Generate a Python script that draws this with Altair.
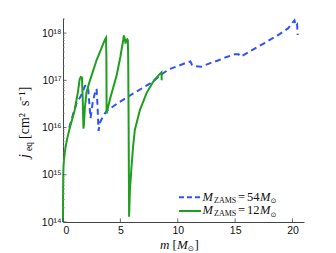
import altair as alt
import pandas as pd

# ---- data (m in Msun, log10 j_eq) ----
m54 = [0.55, 0.9, 1.19, 1.54, 1.91, 2.06, 2.2, 2.4, 2.6, 2.8, 2.93, 3.0, 3.1, 3.22, 3.5,
       3.8, 4.67, 6.1, 7.57, 8.72, 9.3, 10.09, 10.81, 11.1, 11.24, 11.4, 12.06, 12.78,
       13.5, 14.2, 14.96, 15.3, 15.5, 16.2, 17.56, 18.87, 19.6, 20.17, 20.3, 20.4, 20.45]
logj54 = [16.0, 16.3, 16.52, 16.66, 16.88, 16.9, 16.8, 16.2, 16.55, 16.75, 16.82, 16.5,
          15.93, 16.1, 16.25, 16.35, 16.5, 16.72, 16.93, 17.15, 17.24, 17.31, 17.38, 17.4,
          17.33, 17.3, 17.29, 17.36, 17.42, 17.49, 17.55, 17.55, 17.5, 17.6, 17.79, 17.98,
          18.1, 18.27, 18.15, 18.18, 17.96]

m12 = [0.0, 0.005, 0.02, 0.05, 0.1, 0.2, 0.35, 0.6, 1.0, 1.3, 1.45, 1.55, 1.65, 1.72,
       1.78, 1.82, 1.9, 2.05, 2.35, 2.93, 3.3, 3.65, 3.75, 3.78, 3.8, 3.85, 4.09, 4.67,
       5.0, 5.25, 5.3, 5.38, 5.45, 5.5, 5.6, 5.65, 5.68, 5.72, 5.76, 5.83, 5.97, 6.11,
       6.26, 6.7, 7.28, 7.85, 8.3, 8.58, 8.6]
logj12 = [14.0, 14.5, 15.0, 15.2, 15.35, 15.55, 15.75, 16.0, 16.35, 16.75, 17.02, 17.07,
          17.06, 16.6, 15.98, 16.05, 16.4, 16.75, 17.0, 17.43, 17.65, 17.86, 17.9, 17.5,
          16.3, 16.35, 16.6, 17.1, 17.5, 17.86, 17.95, 17.88, 17.78, 17.85, 17.87, 17.85,
          17.5, 16.0, 14.11, 14.68, 15.17, 15.6, 15.95, 16.37, 16.73, 16.97, 17.1, 17.17,
          17.0]

x_ticks = [0, 5, 10, 15, 20]
y_ticks = [1e14, 1e15, 1e16, 1e17, 1e18]
y_tick_labels = ["10¹⁴", "10¹⁵", "10¹⁶", "10¹⁷", "10¹⁸"]
y_minor = [k * 10.0 ** d for d in range(14, 19) for k in range(2, 10) if k * 10.0 ** d < 2.05e18]

BLUE = "#2f52ff"
GREEN = "#1f9f1f"
AXC = "#444444"
W, H = 241, 204
SERIF = "Liberation Serif"
SANS = "Liberation Sans"

df54 = pd.DataFrame({"m": m54, "j": [10 ** v for v in logj54], "i": range(len(m54))})
df12 = pd.DataFrame({"m": m12, "j": [10 ** v for v in logj12], "i": range(len(m12))})

xs = alt.Scale(domain=[0, 21], nice=False, zero=False)
ys = alt.Scale(type="log", domain=[1e14, 2.09e18], nice=False)

expr = "''"
for v, lab in reversed(list(zip(y_ticks, y_tick_labels))):
    expr = f"(datum.value > {v*0.5} && datum.value < {v*2}) ? '{lab}' : {expr}"

x_axis = alt.Axis(values=x_ticks, title=None, ticks=False, labelFont=SANS, labelFontSize=10.5,
                  labelColor="#111", labelPadding=3, domainColor=AXC, grid=False)
y_axis = alt.Axis(values=y_ticks, title=None, ticks=False, labelFont=SANS, labelFontSize=10.5,
                  labelColor="#111", labelPadding=2, domainColor=AXC, grid=False, labelExpr=expr)

X = alt.X("m:Q", scale=xs, axis=x_axis)
Y = alt.Y("j:Q", scale=ys, axis=y_axis)

blue = alt.Chart(df54).mark_line(color=BLUE, strokeWidth=2, strokeDash=[6, 4]).encode(
    x=X, y=Y, order="i:Q")
green = alt.Chart(df12).mark_line(color=GREEN, strokeWidth=2).encode(x=X, y=Y, order="i:Q")

xt = alt.Chart(pd.DataFrame({"m": x_ticks})).mark_rule(color=AXC, strokeWidth=0.8).encode(
    x=X, y=alt.value(H), y2=alt.value(H - 3.5))
yt = alt.Chart(pd.DataFrame({"j": y_ticks})).mark_rule(color=AXC, strokeWidth=0.8).encode(
    y=Y, x=alt.value(0), x2=alt.value(3.5))
ytm = alt.Chart(pd.DataFrame({"j": y_minor})).mark_rule(color="#888", strokeWidth=0.7).encode(
    y=Y, x=alt.value(0), x2=alt.value(2))

one = alt.Data(values=[{}])


def txt(s, x, y, size, italic=False, font=SERIF, angle=0):
    kw = dict(text=s, font=font, fontSize=size, align="left", baseline="alphabetic", color="#111")
    if italic:
        kw["fontStyle"] = "italic"
    if angle:
        kw["angle"] = angle
    return alt.Chart(one).mark_text(**kw).encode(x=alt.value(x), y=alt.value(y))


def rule(x1, x2, y, color, dash=None):
    kw = dict(color=color, strokeWidth=2)
    if dash:
        kw["strokeDash"] = dash
    return alt.Chart(one).mark_rule(**kw).encode(x=alt.value(x1), x2=alt.value(x2), y=alt.value(y))


layers = [blue, green, xt, yt, ytm]

# legend
for row, (col, dash, num) in enumerate([(BLUE, [5, 3], "54"), (GREEN, None, "12")]):
    yb = 182.7 + row * 13.7
    ly = 179.3 + row * 13.7
    layers.append(rule(116, 138, ly, col, dash))
    layers += [
        txt("M", 139.5, yb, 12.5, italic=True),
        txt("ZAMS", 151.0, yb + 2, 8),
        txt("=", 175.0, yb, 12.5),
        txt(num, 184.0, yb, 12.5),
        txt("M", 197.0, yb, 12.5, italic=True),
        txt("⊙", 207.5, yb + 2.5, 7, font="DejaVu Sans"),
    ]

# x title: m [M_sun]
xb = 230.5
layers += [
    txt("m", 97, xb, 13, italic=True),
    txt("[", 109.5, xb, 13),
    txt("M", 114.0, xb, 13, italic=True),
    txt("⊙", 124.8, xb + 2.5, 7.5, font="DejaVu Sans"),
    txt("]", 131.5, xb, 13),
]

# y title: j_eq [cm^2 s^-1], rotated
layers += [
    txt("j", -34, 140, 14, italic=True, angle=270),
    txt("eq", -31.5, 133, 9.5, angle=270),
    txt("[cm²", -34, 121, 14, angle=270),
    txt("s⁻¹]", -34, 88, 14, angle=270),
]

chart = alt.layer(*layers).properties(
    width=W, height=H,
    padding={"left": 55, "top": 10, "right": 24, "bottom": 31},
    autosize=alt.AutoSizeParams(type="none"),
).configure_view(stroke=None)

chart.save("out.html", embed_options={"renderer": "svg", "actions": False})
